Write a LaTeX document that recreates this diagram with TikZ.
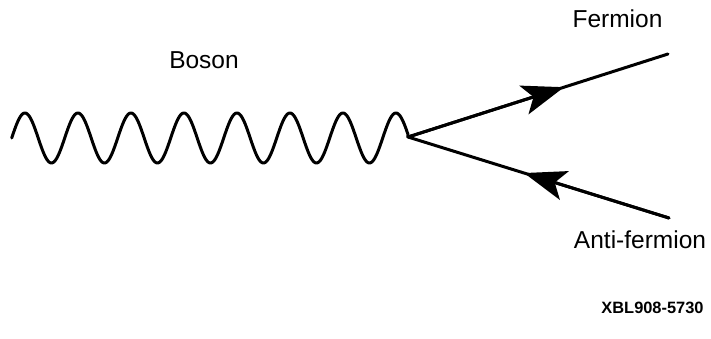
\documentclass[tikz,border=0pt]{standalone}
\usepackage{fontspec}
\setmainfont{Liberation Sans}
\usetikzlibrary{arrows.meta,calc}
\begin{document}
\begin{tikzpicture}[x=1pt,y=-1pt,
  line/.style={line width=3pt,line cap=round,line join=round},
  lbl/.style={anchor=base,inner sep=0pt,font=\fontsize{24.5}{29}\selectfont},
  tip/.style={-{Stealth[length=42pt,width=30pt,inset=10pt]}}]
\useasboundingbox (0,0) rectangle (711,339);
\coordinate (v) at (408,137);
\coordinate (endU) at (668,54);
\coordinate (endL) at (669,218);
% boson wave
\draw[line] plot[domain=0:7.48,samples=400] ({11.7+53*\x},{138-25*sin(360*\x)}) -- (v);
% fermion lines
\draw[line] (v) -- (endU);
\draw[line,tip] (v) -- ($(v)!0.6!(endU)$);
\draw[line] (endL) -- (v);
\draw[line,tip] (endL) -- ($(endL)!0.555!(v)$);
% labels
\node[lbl] (boson) at (204,69) {Boson};
\node[lbl] (fermion) at (617.5,28) {Fermion};
\node[lbl] (anti) at (640,248) {Anti-fermion};
\node[anchor=base,inner sep=0pt,font=\fontsize{16.4}{20}\selectfont\bfseries] (xbl) at (652.5,313) {XBL908-5730};
\end{tikzpicture}
\end{document}
